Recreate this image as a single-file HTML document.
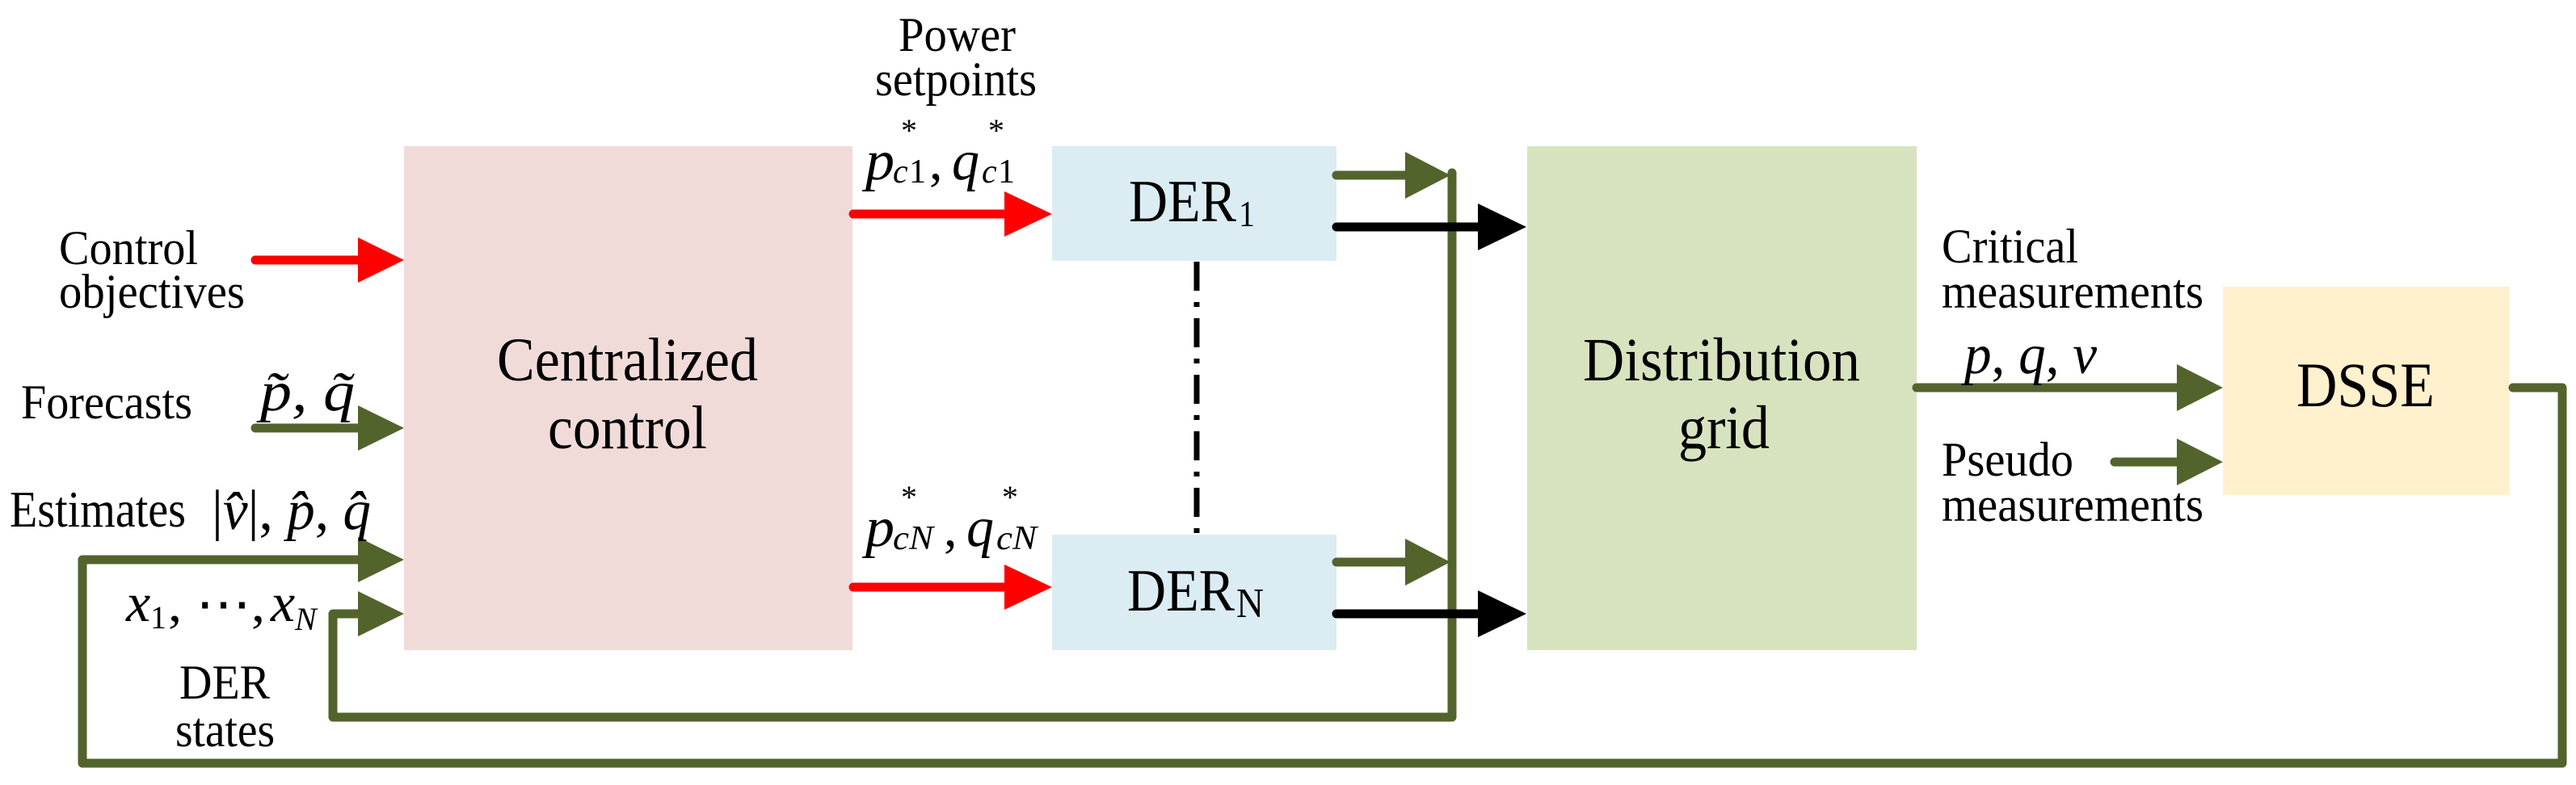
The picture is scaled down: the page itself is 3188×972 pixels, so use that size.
<!DOCTYPE html>
<html><head><meta charset="utf-8"><style>
html,body{margin:0;padding:0;background:#fff;}
svg{display:block;}
text{font-family:"Liberation Serif","Times New Roman",serif;fill:#000;}
.i{font-style:italic;}
</style></head><body>
<svg width="3188" height="972" viewBox="0 0 3188 972" xmlns="http://www.w3.org/2000/svg">
<rect x="500" y="181" width="555" height="624" fill="#f1dbd9"/>
<rect x="1302" y="181" width="352" height="142" fill="#dbedf3"/>
<rect x="1302" y="662" width="352" height="143" fill="#dbedf3"/>
<rect x="1890" y="181" width="482" height="624" fill="#d7e3bf"/>
<rect x="2751" y="355" width="355" height="258" fill="#fff1cd"/>

<line x1="1481" y1="324" x2="1481" y2="662" stroke="#000" stroke-width="7" stroke-dasharray="36,14,6,14"/>

<g stroke-linecap="round" fill="none" stroke-width="11">
<line x1="316" y1="322" x2="450" y2="322" stroke="#ff0000"/>
<line x1="1056" y1="265" x2="1250" y2="265" stroke="#ff0000"/>
<line x1="1056" y1="727" x2="1250" y2="727" stroke="#ff0000"/>
<line x1="316" y1="530" x2="450" y2="530" stroke="#53632c"/>
<polyline points="450,693 102,693 102,945 3171,945 3171,480 3110,480" stroke="#53632c" stroke-linejoin="round"/>
<polyline points="450,760 412,760 412,888 1797,888 1797,214" stroke="#53632c" stroke-linejoin="round"/>
<line x1="1654" y1="217" x2="1745" y2="217" stroke="#53632c"/>
<line x1="1654" y1="696" x2="1745" y2="696" stroke="#53632c"/>
<line x1="2372" y1="480" x2="2700" y2="480" stroke="#53632c"/>
<line x1="2617" y1="572" x2="2700" y2="572" stroke="#53632c"/>
<line x1="1654" y1="281" x2="1835" y2="281" stroke="#000"/>
<line x1="1654" y1="760" x2="1835" y2="760" stroke="#000"/>
</g>

<g fill="#ff0000">
<polygon points="443,294 500,322 443,350"/>
<polygon points="1243,237 1302,265 1243,293"/>
<polygon points="1243,699 1302,727 1243,755"/>
</g>
<g fill="#53632c">
<polygon points="443,502 500,530 443,558"/>
<polygon points="443,665 500,693 443,721"/>
<polygon points="443,732 500,760 443,788"/>
<polygon points="1739,188 1795,217 1739,246"/>
<polygon points="1739,667 1795,696 1739,725"/>
<polygon points="2694,451 2751,480 2694,509"/>
<polygon points="2694,543 2751,572 2694,601"/>
</g>
<g fill="#000">
<polygon points="1829,252 1889,281 1829,310"/>
<polygon points="1829,731 1889,760 1829,789"/>
</g>

<g lengthAdjust="spacingAndGlyphs">
<text x="1112" y="63" font-size="60" textLength="145" lengthAdjust="spacingAndGlyphs">Power</text>
<text x="1083" y="118" font-size="60" textLength="200" lengthAdjust="spacingAndGlyphs">setpoints</text>

<text x="1071" y="222" font-size="70" class="i" textLength="36" lengthAdjust="spacingAndGlyphs">p</text>
<text x="1105" y="226" font-size="42" class="i">c</text><text x="1125" y="226" font-size="42">1</text>
<text x="1115" y="175" font-size="40">*</text>
<text x="1150" y="222" font-size="66">,</text>
<text x="1178" y="222" font-size="70" class="i" textLength="34" lengthAdjust="spacingAndGlyphs">q</text>
<text x="1215" y="226" font-size="42" class="i">c</text><text x="1235" y="226" font-size="42">1</text>
<text x="1223" y="175" font-size="40">*</text>

<text x="1071" y="676" font-size="70" class="i" textLength="36" lengthAdjust="spacingAndGlyphs">p</text>
<text x="1105" y="680" font-size="42" class="i" textLength="50" lengthAdjust="spacingAndGlyphs">cN</text>
<text x="1115" y="629" font-size="40">*</text>
<text x="1168" y="676" font-size="66">,</text>
<text x="1196" y="676" font-size="70" class="i" textLength="34" lengthAdjust="spacingAndGlyphs">q</text>
<text x="1233" y="680" font-size="42" class="i" textLength="50" lengthAdjust="spacingAndGlyphs">cN</text>
<text x="1240" y="629" font-size="40">*</text>

<text x="1397" y="274" font-size="74" textLength="133" lengthAdjust="spacingAndGlyphs">DER</text>
<text x="1533" y="280" font-size="46" textLength="20" lengthAdjust="spacingAndGlyphs">1</text>
<text x="1395" y="756" font-size="74" textLength="133" lengthAdjust="spacingAndGlyphs">DER</text>
<text x="1530" y="764" font-size="52" textLength="34" lengthAdjust="spacingAndGlyphs">N</text>

<text x="73" y="327" font-size="60" textLength="172" lengthAdjust="spacingAndGlyphs">Control</text>
<text x="73" y="381" font-size="60" textLength="230" lengthAdjust="spacingAndGlyphs">objectives</text>
<text x="615" y="471" font-size="76" textLength="323" lengthAdjust="spacingAndGlyphs">Centralized</text>
<text x="678" y="555" font-size="76" textLength="197" lengthAdjust="spacingAndGlyphs">control</text>
<text x="26" y="518" font-size="60" textLength="212" lengthAdjust="spacingAndGlyphs">Forecasts</text>
<text x="322" y="508" font-size="70" class="i" textLength="117" lengthAdjust="spacingAndGlyphs">p̃,  q̃</text>
<text x="12" y="652" font-size="64" textLength="218" lengthAdjust="spacingAndGlyphs">Estimates</text>
<text x="262" y="655" font-size="70" textLength="197" lengthAdjust="spacingAndGlyphs">|<tspan class="i">v̂</tspan>|, <tspan class="i">p̂</tspan>, <tspan class="i">q̂</tspan></text>
<text x="156" y="769" font-size="68" class="i">x</text>
<text x="186" y="778" font-size="40">1</text>
<text x="208" y="769" font-size="64" textLength="120" lengthAdjust="spacingAndGlyphs">, ⋯, </text>
<text x="335" y="769" font-size="68" class="i">x</text>
<text x="365" y="780" font-size="40" class="i">N</text>
<text x="222" y="865" font-size="60" textLength="112" lengthAdjust="spacingAndGlyphs">DER</text>
<text x="217" y="924" font-size="60" textLength="123" lengthAdjust="spacingAndGlyphs">states</text>

<text x="1959" y="471" font-size="76" textLength="343" lengthAdjust="spacingAndGlyphs">Distribution</text>
<text x="2077" y="555" font-size="76" textLength="113" lengthAdjust="spacingAndGlyphs">grid</text>
<text x="2403" y="325" font-size="60" textLength="169" lengthAdjust="spacingAndGlyphs">Critical</text>
<text x="2403" y="381" font-size="60" textLength="324" lengthAdjust="spacingAndGlyphs">measurements</text>
<text x="2431" y="462" font-size="70" class="i" textLength="164" lengthAdjust="spacingAndGlyphs">p<tspan font-style="normal">,</tspan> q<tspan font-style="normal">,</tspan> v</text>
<text x="2842" y="503" font-size="78" textLength="171" lengthAdjust="spacingAndGlyphs">DSSE</text>
<text x="2403" y="589" font-size="60" textLength="163" lengthAdjust="spacingAndGlyphs">Pseudo</text>
<text x="2403" y="645" font-size="60" textLength="324" lengthAdjust="spacingAndGlyphs">measurements</text>
</g>
</svg>
</body></html>
